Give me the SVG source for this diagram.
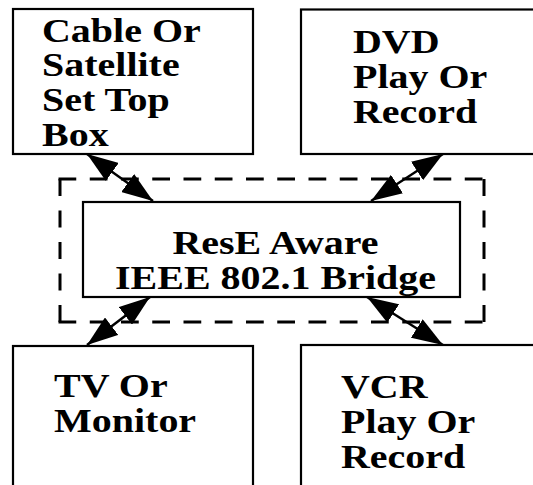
<svg xmlns="http://www.w3.org/2000/svg" width="533" height="485" viewBox="0 0 533 485">
  <style>
    .box { fill: #ffffff; stroke: #000000; stroke-width: 2.2; }
    text { font-family: 'Liberation Serif', 'Times New Roman', Times, serif; font-weight: 700; font-size: 34px; fill: #000000; }
    .dash-h { fill: none; stroke: #000000; stroke-width: 3; stroke-dasharray: 17.75 13.5; }
    .dash-v { fill: none; stroke: #000000; stroke-width: 3; stroke-dasharray: 17 14.5; }
    .link { fill: none; stroke: #000000; stroke-width: 2.4; }
  </style>
  <defs>
    <marker id="head" viewBox="0 0 31 22" refX="31" refY="11" markerWidth="31" markerHeight="22" markerUnits="userSpaceOnUse" orient="auto-start-reverse">
      <path d="M0,0 L31,11 L0,22 Z" fill="#000000"/>
    </marker>
  </defs>

  <rect width="533" height="485" fill="#ffffff"/>

  <!-- bridge boundary -->
  <g id="boundary">
    <path class="dash-h" d="M58.5,179 H485.5"/>
    <path class="dash-h" d="M58.5,322 H485.5"/>
    <path class="dash-v" d="M60,179 V322"/>
    <path class="dash-v" d="M484,179 V322"/>
  </g>

  <g id="settop">
    <rect class="box" x="13" y="9" width="240" height="145"/>
    <g transform="translate(42,0) scale(1.176,1)">
      <text x="0" y="42">Cable Or</text>
      <text x="0" y="76">Satellite</text>
      <text x="0" y="111">Set Top</text>
      <text x="0" y="146">Box</text>
    </g>
  </g>

  <g id="dvd">
    <rect class="box" x="301" y="9.5" width="250" height="144.5"/>
    <g transform="translate(353,0) scale(1.176,1)">
      <text x="0" y="53">DVD</text>
      <text x="0" y="88">Play Or</text>
      <text x="0" y="123">Record</text>
    </g>
  </g>

  <g id="bridge">
    <rect class="box" x="83" y="202" width="377" height="95"/>
    <g transform="translate(275.5,0) scale(1.176,1)">
      <text x="0" y="254" text-anchor="middle">ResE Aware</text>
      <text x="0" y="289" text-anchor="middle">IEEE 802.1 Bridge</text>
    </g>
  </g>

  <g id="tv">
    <rect class="box" x="13" y="346" width="240" height="160"/>
    <g transform="translate(54,0) scale(1.176,1)">
      <text x="0" y="397">TV Or</text>
      <text x="0" y="432">Monitor</text>
    </g>
  </g>

  <g id="vcr">
    <rect class="box" x="301" y="345" width="250" height="160"/>
    <g transform="translate(341,0) scale(1.176,1)">
      <text x="0" y="398">VCR</text>
      <text x="0" y="433">Play Or</text>
      <text x="0" y="468">Record</text>
    </g>
  </g>

  <g id="connectors">
    <line class="link" x1="87" y1="154" x2="153" y2="201" marker-start="url(#head)" marker-end="url(#head)"/>
    <line class="link" x1="443" y1="154" x2="371" y2="201" marker-start="url(#head)" marker-end="url(#head)"/>
    <line class="link" x1="150" y1="297" x2="87" y2="345" marker-start="url(#head)" marker-end="url(#head)"/>
    <line class="link" x1="367" y1="297" x2="443" y2="345" marker-start="url(#head)" marker-end="url(#head)"/>
  </g>
</svg>
